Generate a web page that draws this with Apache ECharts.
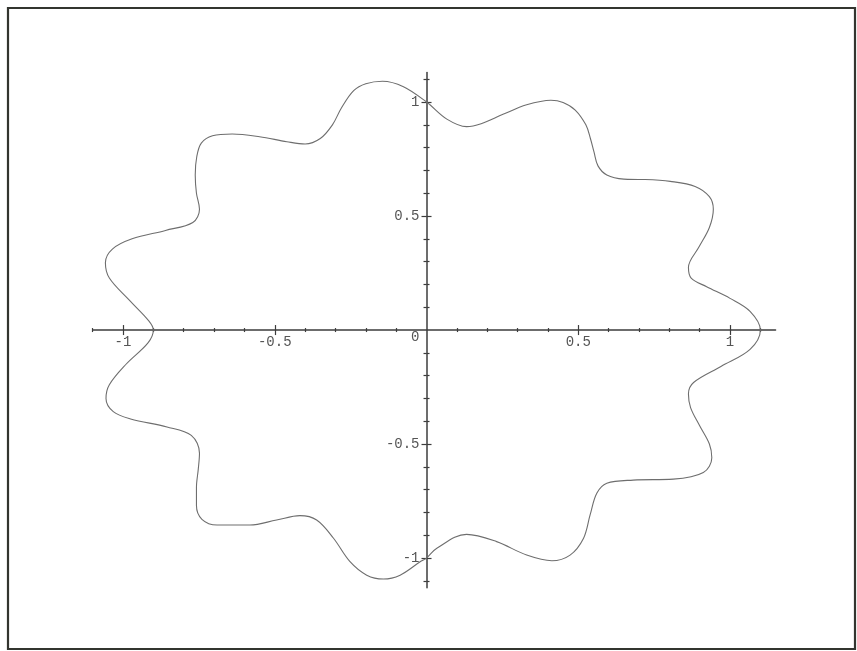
<!DOCTYPE html>
<html>
<head>
<meta charset="utf-8">
<script src="https://cdn.jsdelivr.net/npm/echarts@6/dist/echarts.min.js"></script>
<style>
  html, body { margin: 0; padding: 0; background: #ffffff; }
  #chart { width: 857px; height: 651px; }
</style>
</head>
<body>
<div id="chart"></div>
<script>
// Closed wavy curve, traced counter-clockwise starting on the flat upper-right shelf
const curveX = [
  0.720, 0.650, 0.594, 0.565, 0.552, 0.540, 0.525, 0.490, 0.450, 0.410,
  0.330, 0.250, 0.180, 0.132, 0.067, 0.000, -0.076, -0.145, -0.200, -0.240,
  -0.280, -0.310, -0.350, -0.400, -0.460, -0.550, -0.640, -0.705, -0.742, -0.757,
  -0.762, -0.758, -0.748, -0.770, -0.860, -0.970, -1.035, -1.058, -1.045, -0.980,
  -0.915, -0.900,
  -0.917, -0.990, -1.045, -1.056, -1.032, -0.975, -0.855, -0.775, -0.748, -0.752,
  -0.758, -0.758, -0.740, -0.690, -0.582, -0.494, -0.417, -0.362, -0.307, -0.252,
  -0.197, -0.142, -0.087, -0.021, 0.000, 0.034, 0.132, 0.231, 0.330, 0.413,
  0.473, 0.517, 0.539, 0.561, 0.594, 0.681, 0.813, 0.912, 0.940, 0.932,
  0.900, 0.870, 0.863, 0.880, 0.970, 1.066, 1.100,
  1.066, 1.000, 0.923, 0.872, 0.863, 0.898, 0.932, 0.945, 0.932, 0.885,
  0.803, 0.720
];
const curveY = [
  0.660, 0.662, 0.680, 0.720, 0.780, 0.840, 0.900, 0.965, 0.998, 1.008,
  0.988, 0.945, 0.905, 0.892, 0.925, 1.000, 1.067, 1.091, 1.080, 1.050,
  0.975, 0.900, 0.840, 0.816, 0.826, 0.848, 0.860, 0.852, 0.820, 0.760,
  0.680, 0.600, 0.530, 0.472, 0.437, 0.400, 0.355, 0.295, 0.228, 0.132,
  0.040, 0.000,
  -0.055, -0.150, -0.240, -0.300, -0.358, -0.390, -0.425, -0.462, -0.540, -0.610,
  -0.690, -0.770, -0.830, -0.855, -0.855, -0.833, -0.814, -0.833, -0.912, -1.016,
  -1.075, -1.092, -1.075, -1.016, -1.000, -0.957, -0.896, -0.928, -0.987, -1.012,
  -0.987, -0.914, -0.811, -0.716, -0.672, -0.658, -0.654, -0.625, -0.560, -0.500,
  -0.420, -0.340, -0.280, -0.230, -0.160, -0.085, 0.000,
  0.082, 0.139, 0.190, 0.228, 0.275, 0.365, 0.450, 0.530, 0.585, 0.630,
  0.652, 0.660
];

// Tick marks along both axes
const minorTicks = [
  -1.1, -0.9, -0.8, -0.7, -0.6, -0.4, -0.3, -0.2, -0.1,
  0.1, 0.2, 0.3, 0.4, 0.6, 0.7, 0.8, 0.9, 1.1
];
const majorTicks = [-1, -0.5, 0.5, 1];
const xTickLabels = [-1, -0.5, 0.5, 1];
const yTickLabels = [-1, -0.5, 0, 0.5, 1];

const xRange = [-1.1, 1.15];
const yRange = [-1.13, 1.13];

const GRID = { left: 92.65, top: 72.4, width: 682.9, height: 515.3 };

// Both axes cross at the origin: shift each from its grid edge to the zero line
const xAxisShift = -GRID.height * (0 - yRange[0]) / (yRange[1] - yRange[0]);
const yAxisShift = -GRID.width * (0 - xRange[0]) / (xRange[1] - xRange[0]);

const AXIS_COLOR = '#3c3c3c';
const LABEL_FONT = {
  fontFamily: '"Liberation Mono", "DejaVu Sans Mono", monospace',
  fontSize: 14,
  color: '#555555'
};

const pts = curveX.map((x, i) => [x, curveY[i]]);

function makeAxis(dim, ticks, inside, len, withLine) {
  const range = dim === 'x' ? xRange : yRange;
  const ax = {
    type: 'value',
    min: range[0],
    max: range[1],
    position: dim === 'x' ? 'bottom' : 'left',
    offset: dim === 'x' ? xAxisShift : yAxisShift,
    splitLine: { show: false },
    axisLine: {
      show: withLine,
      onZero: false,
      lineStyle: { color: AXIS_COLOR, width: 1.5 }
    },
    axisTick: {
      show: true,
      inside: inside,
      length: len,
      customValues: ticks,
      lineStyle: { color: AXIS_COLOR, width: 1.2 }
    },
    axisLabel: { show: false }
  };
  if (withLine) {
    if (dim === 'x') {
      ax.axisLabel = Object.assign({
        show: true,
        margin: 5,
        customValues: xTickLabels,
        formatter: v => String(v)
      }, LABEL_FONT);
    } else {
      ax.axisLabel = Object.assign({
        show: true,
        margin: 7,
        customValues: yTickLabels,
        formatter: v => (v === 0 ? '{z|0}' : String(v)),
        rich: {
          z: Object.assign({ padding: [15, 0, 0, 0] }, LABEL_FONT)
        }
      }, LABEL_FONT);
    }
  }
  return ax;
}

const chart = echarts.init(document.getElementById('chart'), null, { renderer: 'canvas' });

chart.setOption({
  animation: false,
  backgroundColor: '#ffffff',
  grid: Object.assign({ containLabel: false }, GRID),
  xAxis: [
    makeAxis('x', minorTicks, false, 2, true),
    makeAxis('x', minorTicks, true, 2, false),
    makeAxis('x', majorTicks, false, 5, false),
    makeAxis('x', majorTicks, true, 5, false)
  ],
  yAxis: [
    makeAxis('y', minorTicks, false, 3, true),
    makeAxis('y', minorTicks, true, 3, false),
    makeAxis('y', majorTicks, false, 5, false),
    makeAxis('y', majorTicks, true, 5, false)
  ],
  graphic: [
    {
      type: 'rect',
      shape: { x: 8, y: 8, width: 847, height: 641 },
      style: { fill: 'none', stroke: '#33352f', lineWidth: 2.2 },
      silent: true,
      z: 100
    }
  ],
  series: [
    {
      type: 'line',
      xAxisIndex: 0,
      yAxisIndex: 0,
      data: pts,
      smooth: 0.35,
      showSymbol: false,
      lineStyle: { color: '#6e6e6e', width: 1.1 },
      z: 3
    }
  ]
});
</script>
</body>
</html>
